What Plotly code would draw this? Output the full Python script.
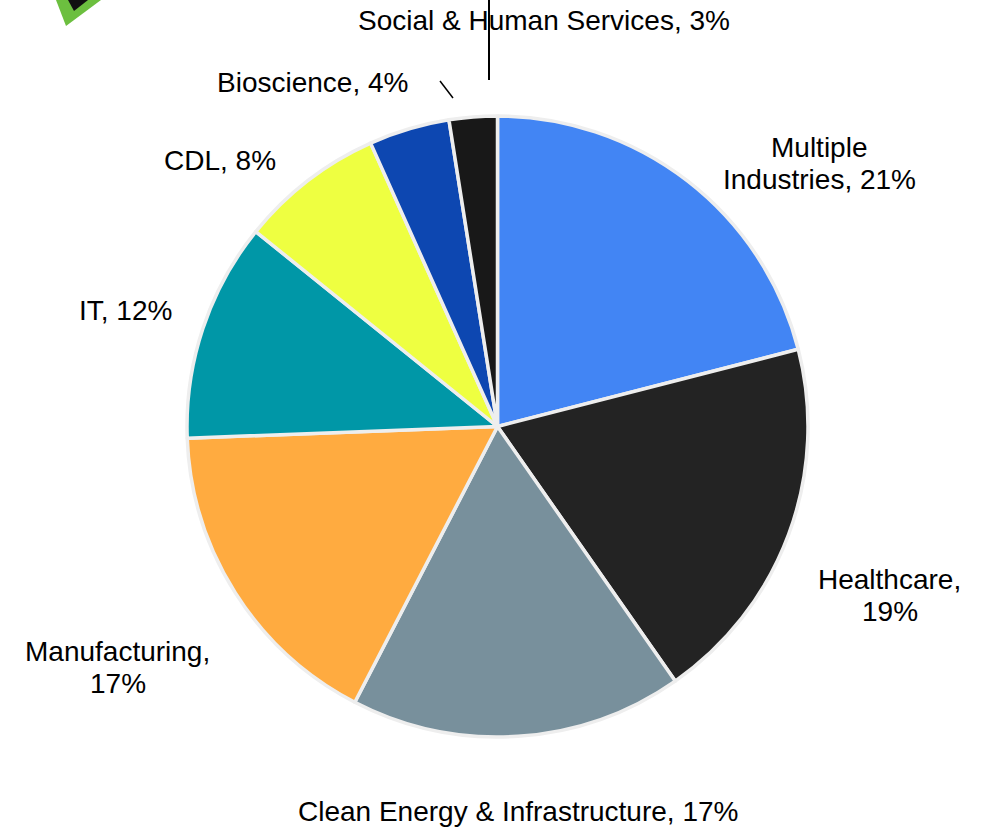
import plotly.graph_objects as go

categories = ["Multiple Industries", "Healthcare", "Clean Energy & Infrastructure", "Manufacturing", "IT", "CDL", "Bioscience", "Social & Human Services"]
values = [21.0, 19.3, 17.3, 16.8, 11.4, 7.5, 4.2, 2.5]
colors = ["#4285F4", "#232323", "#78909C", "#FFAB40", "#0097A7", "#EEFF41", "#0D47B1", "#181818"]
labels = ["Multiple", "Industries, 21%", "Healthcare,", "19%", "Clean Energy & Infrastructure, 17%", "Manufacturing,", "17%", "IT, 12%", "CDL, 8%", "Bioscience, 4%", "Social & Human Services, 3%"]
label_x = [819, 819, 889, 890, 518, 117, 118, 125, 220, 312, 544]
label_y = [147, 179, 579, 611, 811, 651, 683, 310, 160, 82, 20]

fig = go.Figure(go.Pie(labels=categories, values=values, sort=False, direction="clockwise", rotation=0,
    marker=dict(colors=colors, line=dict(color="#EEEEEE", width=3.5)), textinfo="none", hoverinfo="label+percent",
    domain=dict(x=[187/989, 808/989], y=[1-738/828, 1-115/828]), showlegend=False))
for t, x, y in zip(labels, label_x, label_y):
    fig.add_annotation(text=t, x=x, y=y, xref="x", yref="y", showarrow=False, font=dict(family="Liberation Sans", size=28, color="#000000"), align="center")
fig.add_shape(type="line", x0=489, x1=489, y0=0, y1=80, xref="x", yref="y", line=dict(color="#000", width=2))
fig.add_shape(type="line", x0=440, x1=453, y0=81, y1=98, xref="x", yref="y", line=dict(color="#000", width=1.5))
# cropped logo fragment at the top-left corner
fig.add_shape(type="path", path="M 56 0 L 66 26 L 101 0 Z", xref="x", yref="y", fillcolor="#6CBF3F", line=dict(width=0))
fig.add_shape(type="path", path="M 68 0 L 74 11 L 88 0 Z", xref="x", yref="y", fillcolor="#111111", line=dict(width=0))
fig.update_layout(width=989, height=828, margin=dict(l=0, r=0, t=0, b=0), paper_bgcolor="white", plot_bgcolor="rgba(0,0,0,0)",
    xaxis=dict(range=[0, 989], visible=False, fixedrange=True), yaxis=dict(range=[828, 0], visible=False, fixedrange=True))
fig.write_html("out.html", post_script="document.body.style.margin='0';", config=dict(displayModeBar=False))
